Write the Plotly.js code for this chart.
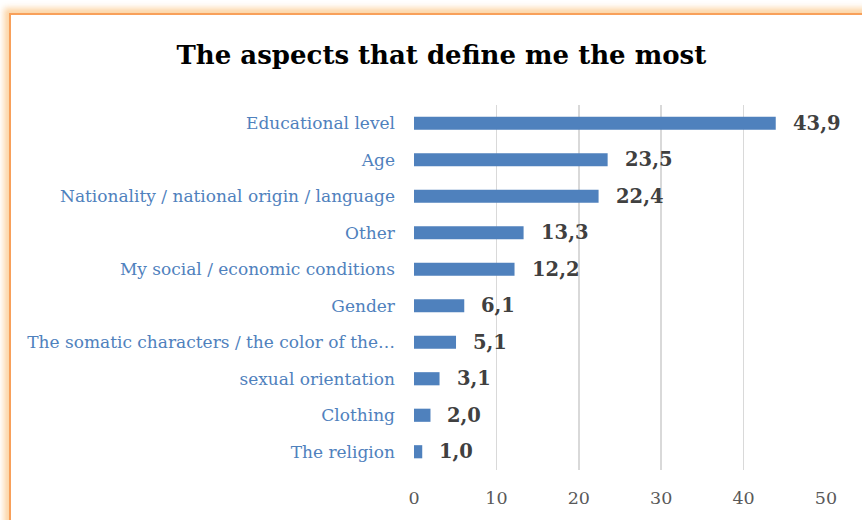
<!DOCTYPE html>
<html>
<head>
<meta charset="utf-8">
<script src="https://cdn.plot.ly/plotly-3.0.1.min.js"></script>
<style>
html,body{margin:0;padding:0;width:862px;height:520px;overflow:hidden;background:#fff;}
#chart{position:absolute;left:0;top:0;width:862px;height:520px;}
#frame{position:absolute;left:9px;top:13px;width:1000px;height:700px;border:2px solid #F8A05A;box-shadow:0 0 6px 5px rgba(252,206,150,0.85);pointer-events:none;}
</style>
</head>
<body>
<div id="chart"></div>
<div id="frame"></div>
<script>
const categories = [
  "Educational level",
  "Age",
  "Nationality / national origin / language",
  "Other",
  "My social / economic conditions",
  "Gender",
  "The somatic characters / the color of the…",
  "sexual orientation",
  "Clothing",
  "The religion"
];
const values = [43.9, 23.5, 22.4, 13.3, 12.2, 6.1, 5.1, 3.1, 2.0, 1.0];
const xTicks = [0, 10, 20, 30, 40, 50];
const titleText = "The aspects that define me the most";

const serif = "DejaVu Serif, Liberation Serif, serif";

const trace = {
  type: "bar",
  orientation: "h",
  x: values,
  y: categories,
  marker: {color: "#4F81BD"},
  hoverinfo: "skip"
};

const annotations = values.map((v, i) => ({
  x: v, y: categories[i], xref: "x", yref: "y",
  text: "<b>" + v.toFixed(1).replace(".", ",") + "</b>",
  showarrow: false, xanchor: "left", yanchor: "middle", xshift: 15,
  font: {family: serif, size: 19.5, color: "#404040"}
}));

const layout = {
  width: 862, height: 520,
  margin: {l: 414, r: 36, t: 105, b: 50},
  paper_bgcolor: "#fff", plot_bgcolor: "#fff",
  title: {text: "<b>" + titleText + "</b>", x: 0.512, xanchor: "center", y: 0.895, yanchor: "middle",
          font: {family: serif, size: 26, color: "#000"}},
  bargap: 0.64,
  showlegend: false,
  xaxis: {range: [0, 50], tickvals: xTicks, ticktext: xTicks.map(String),
          showgrid: true, gridcolor: "#D9D9D9", gridwidth: 1.5, zeroline: false,
          showline: false, ticks: "", ticklen: 0, ticklabelstandoff: 15,
          tickfont: {family: serif, size: 17.5, color: "#595959"}, fixedrange: true},
  yaxis: {autorange: "reversed", showgrid: false, zeroline: false, showline: false,
          ticks: "", ticklabelstandoff: 18,
          tickfont: {family: serif, size: 17, color: "#4F81BD"}, fixedrange: true},
  annotations: annotations
};

Plotly.newPlot("chart", [trace], layout, {displayModeBar: false, staticPlot: true});
</script>
</body>
</html>
